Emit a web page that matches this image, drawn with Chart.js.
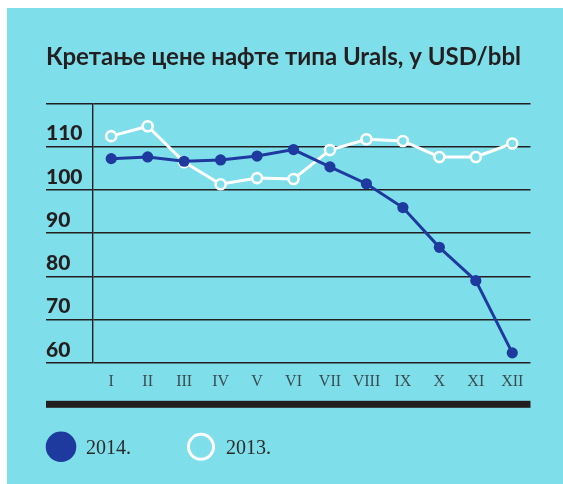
<!DOCTYPE html>
<html>
<head>
<meta charset="utf-8">
<script src="https://cdn.jsdelivr.net/npm/chart.js@4/dist/chart.umd.min.js"></script>
<style>
  html, body { margin: 0; padding: 0; background: #ffffff; }
  canvas { display: block; }
</style>
</head>
<body>
<canvas id="c" width="563" height="484"></canvas>
<script>
// ---- data ----
const titleText = 'Кретање цене нафте типа Urals, у USD/bbl';
const months = ['I', 'II', 'III', 'IV', 'V', 'VI', 'VII', 'VIII', 'IX', 'X', 'XI', 'XII'];
const seriesLabels = ['2014.', '2013.'];
const values2014 = [107.2, 107.6, 106.6, 106.9, 107.8, 109.3, 105.3, 101.4, 95.9, 86.7, 79.0, 62.3];
const values2013 = [112.4, 114.7, 106.4, 101.3, 102.7, 102.5, 109.2, 111.7, 111.3, 107.6, 107.6, 110.7];
const yTickLabels = [60, 70, 80, 90, 100, 110];
const yMin = 60, yMax = 120;

// ---- colours ----
const CYAN = '#7edfea';
const BLUE = '#1f3a9e';
const DARK = '#231f20';

const panelPlugin = {
  id: 'panel',
  beforeDraw(chart) {
    const ctx = chart.ctx;
    ctx.save();
    ctx.fillStyle = '#ffffff';
    ctx.fillRect(0, 0, chart.width, chart.height);
    ctx.fillStyle = CYAN;
    ctx.fillRect(7, 8, chart.width - 7, chart.height - 8);
    ctx.restore();
  },
  afterDraw(chart) {
    const ctx = chart.ctx;
    const area = chart.chartArea;
    const left = chart.scales.y.left;
    ctx.save();
    // thick bottom rule
    ctx.fillStyle = DARK;
    ctx.fillRect(left, area.bottom + 38, area.right - left, 7);
    // legend
    const cy = area.bottom + 84;
    const ds = chart.data.datasets;
    const items = [
      { x: left + 15, fill: true, label: ds[0].label },
      { x: left + 155, fill: false, label: ds[1].label }
    ];
    items.forEach(it => {
      ctx.beginPath();
      if (it.fill) {
        ctx.arc(it.x, cy, 15.3, 0, Math.PI * 2);
        ctx.fillStyle = BLUE;
        ctx.fill();
      } else {
        ctx.arc(it.x, cy, 12.5, 0, Math.PI * 2);
        ctx.lineWidth = 3;
        ctx.strokeStyle = '#ffffff';
        ctx.stroke();
      }
      ctx.fillStyle = '#2b2b2b';
      ctx.font = '20px "Liberation Serif"';
      ctx.textBaseline = 'middle';
      ctx.textAlign = 'left';
      ctx.fillText(it.label, it.x + 25, cy + 2);
    });
    ctx.restore();
  }
};

new Chart(document.getElementById('c'), {
  type: 'line',
  data: {
    labels: months,
    datasets: [
      {
        label: seriesLabels[0],
        data: values2014,
        borderColor: BLUE,
        backgroundColor: BLUE,
        borderWidth: 3,
        pointRadius: 5.6,
        pointBorderWidth: 0,
        pointBackgroundColor: BLUE,
        tension: 0
      },
      {
        label: seriesLabels[1],
        data: values2013,
        borderColor: '#ffffff',
        backgroundColor: CYAN,
        borderWidth: 3,
        pointRadius: 5,
        pointBorderWidth: 2.6,
        pointBorderColor: '#ffffff',
        pointBackgroundColor: CYAN,
        tension: 0
      }
    ]
  },
  options: {
    responsive: false,
    animation: false,
    devicePixelRatio: 1,
    layout: { padding: { left: 46, right: 32.5, top: 0, bottom: 84 } },
    plugins: {
      legend: { display: false },
      tooltip: { enabled: false },
      title: {
        display: true,
        text: titleText,
        align: 'start',
        color: DARK,
        font: { family: 'Lato', size: 24, weight: 'bold', lineHeight: 1.2 },
        padding: { top: 43, bottom: 31.5 }
      }
    },
    scales: {
      x: {
        offset: true,
        grid: { display: false, drawTicks: false },
        border: { display: false },
        ticks: {
          color: '#3b4d53',
          padding: 9,
          font: { family: 'Liberation Serif', size: 16 },
          maxRotation: 0,
          autoSkip: false
        }
      },
      y: {
        min: yMin,
        max: yMax,
        afterFit(scale) { scale.width = 47; },
        afterBuildTicks(scale) {
          scale.ticks = yTickLabels.concat([yMax]).map(v => ({ value: v }));
        },
        grid: {
          color: DARK,
          lineWidth: 1.4,
          drawTicks: true,
          tickLength: 47,
          tickColor: DARK,
          tickWidth: 1.4
        },
        border: { display: true, color: DARK, width: 1.4 },
        ticks: {
          crossAlign: 'far',
          labelOffset: -13,
          padding: 0,
          color: DARK,
          font: { family: 'Lato', size: 21, weight: '900' },
          callback: (v) => yTickLabels.includes(v) ? String(v) : ''
        }
      }
    }
  },
  plugins: [panelPlugin]
});
</script>
</body>
</html>
